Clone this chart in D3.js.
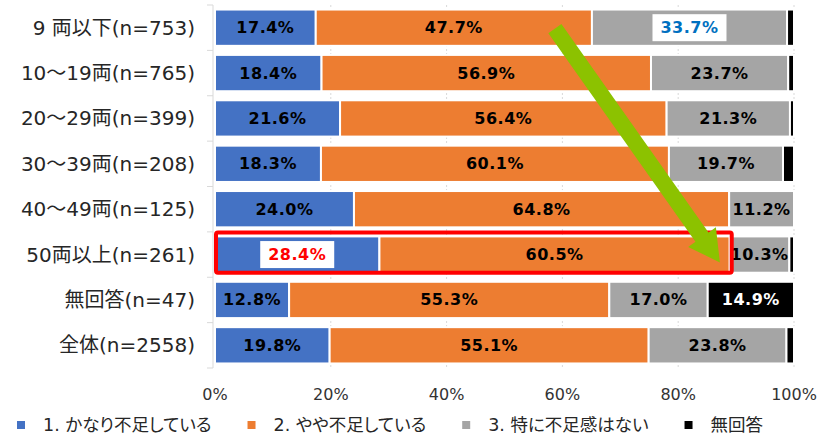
<!DOCTYPE html>
<html>
<head>
<meta charset="utf-8">
<script src="https://cdn.jsdelivr.net/npm/d3@7"></script>
<style>
  html, body { margin: 0; padding: 0; background: #ffffff; }
  svg text { font-family: "DejaVu Sans", "Noto Sans CJK JP", sans-serif; }
  .legend-label { font-feature-settings: "palt" 1; }
</style>
</head>
<body>
<svg id="chart" width="836" height="434"></svg>
<script>
// Row categories (vehicle fleet size, with sample size)
const categories = [
  "9 両以下(n=753)",
  "10～19両(n=765)",
  "20～29両(n=399)",
  "30～39両(n=208)",
  "40～49両(n=125)",
  "50両以上(n=261)",
  "無回答(n=47)",
  "全体(n=2558)"
];

// Series names (legend order = stacking order)
const seriesNames = ["1. かなり不足している", "2. やや不足している", "3. 特に不足感はない", "無回答"];
const seriesColors = ["#4472C4", "#ED7D31", "#A5A5A5", "#000000"];

// Percent values per series, one entry per category
const quiteShort    = [17.4, 18.4, 21.6, 18.3, 24.0, 28.4, 12.8, 19.8];
const somewhatShort = [47.7, 56.9, 56.4, 60.1, 64.8, 60.5, 55.3, 55.1];
const noShortage    = [33.7, 23.7, 21.3, 19.7, 11.2, 10.3, 17.0, 23.8];
const noAnswer      = [ 1.2,  1.0,  0.7,  1.9,  0.0,  0.8, 14.9,  1.3];

const xTicks = [0, 20, 40, 60, 80, 100];

// Highlighted value labels (category, series index, text colour)
const highlights = [
  { category: "9 両以下(n=753)", series: 2, color: "#0070C0" },
  { category: "50両以上(n=261)", series: 0, color: "#FF0000" }
];
const framedCategory = "50両以上(n=261)";

const seriesValues = [quiteShort, somewhatShort, noShortage, noAnswer];
const rows = categories.map((c, i) => {
  const r = { category: c };
  seriesNames.forEach((s, k) => { r[s] = seriesValues[k][i]; });
  return r;
});

const svg = d3.select("#chart");

const x = d3.scaleLinear().domain([0, 100]).range([215, 794]);
const y = d3.scaleBand().domain(categories).range([5, 368])
  .paddingInner(0.2).paddingOuter(0.1);
const bw = y.bandwidth();

// Dotted vertical gridlines
svg.append("g").selectAll("line").data(xTicks.filter(t => t > 0)).join("line")
  .attr("x1", d => x(d)).attr("x2", d => x(d))
  .attr("y1", 5).attr("y2", 368)
  .attr("stroke", "#D9D9D9").attr("stroke-width", 1)
  .attr("stroke-dasharray", "2,2");

// Category axis line with tick marks at band boundaries
const axisX = x(0) - 2;
svg.append("line")
  .attr("x1", axisX).attr("x2", axisX).attr("y1", 5).attr("y2", 368)
  .attr("stroke", "#D9D9D9").attr("stroke-width", 1);
const boundaries = d3.range(categories.length + 1).map(i => 5 + i * (363 / categories.length));
svg.append("g").selectAll("line").data(boundaries).join("line")
  .attr("x1", axisX - 6).attr("x2", axisX)
  .attr("y1", d => d).attr("y2", d => d)
  .attr("stroke", "#D9D9D9").attr("stroke-width", 1);

// Stacked bars
const stack = d3.stack().keys(seriesNames);
const layers = stack(rows);

const layerG = svg.append("g").selectAll("g").data(layers).join("g")
  .attr("fill", (d, i) => seriesColors[i]);

layerG.selectAll("rect").data(d => d.filter(p => p[1] - p[0] > 0)).join("rect")
  .attr("x", d => x(d[0]))
  .attr("y", d => y(d.data.category))
  .attr("width", d => x(d[1]) - x(d[0]))
  .attr("height", bw)
  .attr("stroke", "#ffffff")
  .attr("stroke-width", 2);

// Value labels
const labelData = [];
layers.forEach((layer, k) => {
  layer.forEach(p => {
    const v = p[1] - p[0];
    const show = k < 3 ? v > 0 : v >= 5;
    if (!show) return;
    const h = highlights.find(o => o.category === p.data.category && o.series === k);
    labelData.push({
      cx: x((p[0] + p[1]) / 2),
      cy: y(p.data.category) + bw / 2,
      text: d3.format(".1f")(v) + "%",
      color: h ? h.color : (k === 3 ? "#ffffff" : "#000000"),
      boxed: !!h
    });
  });
});

const labelG = svg.append("g");
labelData.forEach(d => {
  if (d.boxed) {
    labelG.append("rect")
      .attr("x", d.cx - 37).attr("y", d.cy - 13.5)
      .attr("width", 74).attr("height", 27)
      .attr("fill", "#ffffff");
  }
  labelG.append("text")
    .attr("x", d.cx).attr("y", d.cy)
    .attr("text-anchor", "middle")
    .attr("dominant-baseline", "central")
    .attr("font-size", 16)
    .attr("font-weight", "bold")
    .attr("letter-spacing", 0.5)
    .attr("fill", d.color)
    .text(d.text);
});

// Category labels
svg.append("g").selectAll("text").data(categories).join("text")
  .attr("x", 195)
  .attr("y", d => y(d) + bw / 2)
  .attr("text-anchor", "end")
  .attr("dominant-baseline", "central")
  .attr("font-size", 20)
  .attr("fill", "#262626")
  .text(d => d);

// Percent axis labels
svg.append("g").selectAll("text").data(xTicks).join("text")
  .attr("x", d => x(d))
  .attr("y", 394)
  .attr("text-anchor", "middle")
  .attr("dominant-baseline", "central")
  .attr("font-size", 16)
  .attr("fill", "#333333")
  .text(d => d + "%");

// Red frame around the highlighted row (blue + orange segments)
const fi = categories.indexOf(framedCategory);
const frameRight = x(quiteShort[fi] + somewhatShort[fi]) + 2;
svg.append("rect")
  .attr("x", x(0) + 1)
  .attr("y", y(framedCategory) - 4)
  .attr("width", frameRight - (x(0) + 1))
  .attr("height", bw + 4)
  .attr("rx", 2)
  .attr("fill", "none")
  .attr("stroke", "#FF0000")
  .attr("stroke-width", 4);

// Green trend arrow
const start = [x(58.7), y(categories[0]) + bw / 2 + 1];
const tip = [x(87.2), y(framedCategory) + 26];
const dx = tip[0] - start[0], dy = tip[1] - start[1];
const len = Math.hypot(dx, dy);
const u = [dx / len, dy / len];
const n = [-u[1], u[0]];
const shaftHalf = 8, headHalf = 17, headLen = 31;
const base = [tip[0] - u[0] * headLen, tip[1] - u[1] * headLen];
const pt = (p, m) => [p[0] + n[0] * m, p[1] + n[1] * m];
const arrowPts = [
  pt(start, shaftHalf), pt(base, shaftHalf), pt(base, headHalf), tip,
  pt(base, -headHalf), pt(base, -shaftHalf), pt(start, -shaftHalf)
];
svg.append("path")
  .attr("d", d3.line()(arrowPts) + "Z")
  .attr("fill", "#8CC200");

// Legend
const legendG = svg.append("g");
let lx = 17;
seriesNames.forEach((s, i) => {
  legendG.append("rect")
    .attr("x", lx).attr("y", 421)
    .attr("width", 8).attr("height", 8)
    .attr("fill", seriesColors[i]);
  const t = legendG.append("text")
    .attr("class", "legend-label")
    .attr("x", lx + 26).attr("y", 425)
    .attr("dominant-baseline", "central")
    .attr("font-size", 17.5)
    .attr("fill", "#262626")
    .text(s);
  lx += 26 + t.node().getComputedTextLength() + 36;
});
</script>
</body>
</html>
